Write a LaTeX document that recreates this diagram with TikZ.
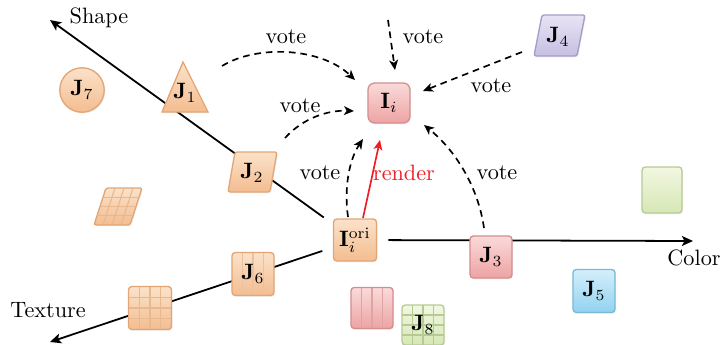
\documentclass[tikz,border=0pt]{standalone}
\usetikzlibrary{arrows.meta,shadows,calc,backgrounds}
\definecolor{orT}{HTML}{FBE2CA}
\definecolor{orB}{HTML}{F3BD90}
\definecolor{orD}{HTML}{E2A676}
\definecolor{pkT}{HTML}{FADADA}
\definecolor{pkB}{HTML}{EDA3A3}
\definecolor{pkD}{HTML}{D58E8E}
\definecolor{puT}{HTML}{E8E4F5}
\definecolor{puB}{HTML}{C6BFE2}
\definecolor{puD}{HTML}{A59CCB}
\definecolor{blT}{HTML}{D4EFFB}
\definecolor{blB}{HTML}{92D2F0}
\definecolor{blD}{HTML}{78BAD8}
\definecolor{grT}{HTML}{F2F7E2}
\definecolor{grB}{HTML}{D6E7B4}
\definecolor{grD}{HTML}{B6CB94}
\definecolor{votered}{HTML}{EE1C25}
\tikzset{
  softshadow/.style={drop shadow={opacity=0.12,shadow xshift=0.5pt,shadow yshift=-0.6pt}},
  orfill/.style={top color=orT,bottom color=orB,draw=orD},
  pkfill/.style={top color=pkT,bottom color=pkB,draw=pkD},
  pufill/.style={top color=puT,bottom color=puB,draw=puD},
  blfill/.style={top color=blT,bottom color=blB,draw=blD},
  grfill/.style={top color=grT,bottom color=grB,draw=grD},
  sq/.style={rectangle,rounded corners=1.5pt,line width=0.6pt,inner sep=0pt,
    minimum width=18.9pt,minimum height=18.9pt,softshadow},
  axis/.style={line width=0.8pt,-{Stealth[length=5pt,width=4.5pt,inset=1.2pt]},shorten <=5pt},
  votearrow/.style={line width=0.75pt,dash pattern=on 3pt off 2.2pt,
    -{Stealth[length=4.5pt,width=4pt,inset=1.2pt]}},
  renderarrow/.style={line width=0.75pt,draw=votered,
    -{Stealth[length=4.5pt,width=4pt,inset=1.2pt]}},
  lbl/.style={inner sep=0pt,font=\normalsize},
  vstripes/.style={path picture={
    \foreach \k in {1,2,3}{
      \draw[#1,line width=0.5pt]
        ($(path picture bounding box.south west)!\k/4!(path picture bounding box.south east)$) --
        ($(path picture bounding box.north west)!\k/4!(path picture bounding box.north east)$);}}},
  grid4/.style={path picture={
    \foreach \k in {1,2,3}{
      \draw[#1,line width=0.5pt]
        ($(path picture bounding box.south west)!\k/4!(path picture bounding box.south east)$) --
        ($(path picture bounding box.north west)!\k/4!(path picture bounding box.north east)$);
      \draw[#1,line width=0.5pt]
        ($(path picture bounding box.south west)!\k/4!(path picture bounding box.north west)$) --
        ($(path picture bounding box.south east)!\k/4!(path picture bounding box.north east)$);}}}
}
\begin{document}
\begin{tikzpicture}[x=0.45pt,y=-0.45pt]
\useasboundingbox (0,0) rectangle (721,345);

% main nodes
\node[sq,orfill,minimum width=19.35pt] (Iori) at (355,240) {$\mathbf{I}_i^{\mathrm{ori}}$};
\node[sq,pkfill,rounded corners=3pt,minimum height=18pt] (Ii) at (389,103) {$\mathbf{I}_i$};
\node[sq,pkfill] (J3) at (491,257) {$\mathbf{J}_3$};
\node[sq,blfill,minimum height=19.35pt] (J5) at (594,291) {$\mathbf{J}_5$};
\node[sq,grfill,minimum width=18pt,minimum height=20.7pt] (G1) at (662,190) {};
\node[sq,orfill,minimum height=19.35pt,vstripes=orD!70] (J6) at (253,274) {$\mathbf{J}_6$};
\node[sq,orfill,minimum width=19.35pt,minimum height=19.35pt,grid4=orD!80] (T1) at (150,308) {};
\node[sq,pkfill,minimum height=18.5pt,vstripes=pkD!80] (R1) at (372,308) {};
\node[sq,grfill,minimum height=18pt,grid4=grD] (J8) at (423,325) {$\mathbf{J}_8$};

% J7 circle
\node[circle,orfill,line width=0.6pt,minimum size=20pt,inner sep=0pt,softshadow] (J7) at (82,90) {$\mathbf{J}_7$};

% J1 triangle
\shade[orfill,line width=0.6pt,softshadow] (183,62) -- (208,112) -- (162,112) -- cycle;
\node[inner sep=0pt] (J1) at (185,93) {$\mathbf{J}_1$};

% J2 parallelogram
\shade[orfill,line width=0.6pt,softshadow,rounded corners=1pt] (235,152) -- (277,152) -- (270,192) -- (228,192) -- cycle;
\node[inner sep=0pt] (J2) at (252,173) {$\mathbf{J}_2$};

% J4 parallelogram
\shade[pufill,line width=0.6pt,softshadow,rounded corners=1pt] (542,15) -- (585,15) -- (577,56) -- (534,56) -- cycle;
\node[inner sep=0pt] (J4) at (558,37) {$\mathbf{J}_4$};

% slanted brick grid
\shade[orfill,line width=0.6pt,softshadow,rounded corners=1pt] (106,188) -- (142,188) -- (130,225) -- (94,225) -- cycle;
\foreach \k in {1,2,3}{
  \draw[orD!80,line width=0.5pt] ($(106,188)!\k/4!(94,225)$) -- ($(142,188)!\k/4!(130,225)$);
  \draw[orD!80,line width=0.5pt] ($(106,188)!\k/4!(142,188)$) -- ($(94,225)!\k/4!(130,225)$);
}

% axes (behind)
\coordinate (shapeTip) at (50,20);
\coordinate (texTip) at (50,342);
\coordinate (colTip) at (693,241);
\begin{pgfonlayer}{background}
\draw[axis] (Iori) -- (shapeTip);
\draw[axis] (Iori) -- (texTip);
\draw[axis] (Iori) -- (colTip);
\end{pgfonlayer}
\node[lbl] (lshape) at (99,18) {Shape};
\node[lbl] (ltex) at (48,310) {Texture};
\node[lbl] (lcol) at (694,258) {Color};

% vote arrows
\coordinate (v1s) at (222,66);
\coordinate (v1e) at (355,80);
\draw[votearrow] (v1s) .. controls (258,44) and (322,48) .. (v1e);
\node[lbl] at (286,37) {vote};

\coordinate (v2s) at (285,138);
\coordinate (v2e) at (354,111);
\draw[votearrow] (v2s) .. controls (303,118) and (328,110) .. (v2e);
\node[lbl] at (300,106) {vote};

\coordinate (v3s) at (388,20);
\coordinate (v3e) at (395,70);
\draw[votearrow] (v3s) -- (v3e);
\node[lbl] at (423,37) {vote};

\coordinate (v4e) at (423,91);
\draw[votearrow] (522,52) -- (v4e);
\node[lbl] at (491,86) {vote};

\coordinate (v5s) at (348,217);
\coordinate (v5e) at (363,139);
\draw[votearrow] (v5s) .. controls (344,188) and (349,160) .. (v5e);
\node[lbl] at (320,173) {vote};

\coordinate (v6s) at (484,228);
\coordinate (v6e) at (424,125);
\draw[votearrow] (v6s) .. controls (478,186) and (455,150) .. (v6e);
\node[lbl] at (497,173) {vote};

% render
\coordinate (rs) at (363,218);
\coordinate (re) at (380,140);
\draw[renderarrow] (rs) -- (re);
\node[lbl,text=votered] at (404,173) {render};
\end{tikzpicture}
\end{document}
